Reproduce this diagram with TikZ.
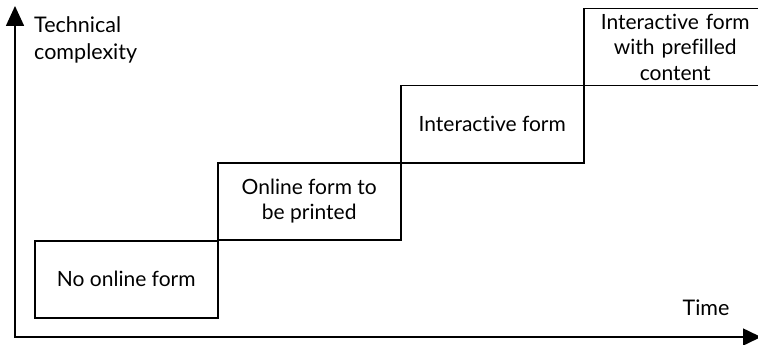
\documentclass[tikz,border=0pt]{standalone}
\usepackage{fontspec}
\setmainfont{Lato}[Ligatures={NoCommon}]
\usetikzlibrary{arrows.meta}
\begin{document}
\begin{tikzpicture}[x=1pt,y=-1pt,
  box/.style={draw,line width=1.5pt,minimum width=183pt,minimum height=77pt,align=center,inner sep=0pt,font=\fontsize{21}{25.5}\selectfont},
  lab/.style={inner sep=0pt,font=\fontsize{21.5}{27}\selectfont},
  axis/.style={line width=1.6pt}]
\useasboundingbox (0,0) rectangle (758,345);
\clip (0,0) rectangle (758,345);
\node[box,anchor=north west] (b1) at (34,240) {No online form};
\node[box,anchor=north west] (b2) at (217,162) {Online form to\\be printed};
\node[box,anchor=north west] (b3) at (400,85) {Interactive form};
\node[box,anchor=north west,text width=160pt] (b4) at (583,8) {Interactive form\\with prefilled\\content};
\coordinate (o) at (15,337);
\coordinate (ytop) at (15,6);
\coordinate (xend) at (761,337);
\draw[axis,{Triangle[length=20pt,width=18pt]}-{Triangle[length=18pt,width=17pt]}] (ytop) -- (o) -- (xend);
\node[lab,anchor=west,align=left] (yl) at (34,40) {Technical\\complexity};
\node[lab] (xl) at (706,308) {Time};
\end{tikzpicture}
\end{document}
